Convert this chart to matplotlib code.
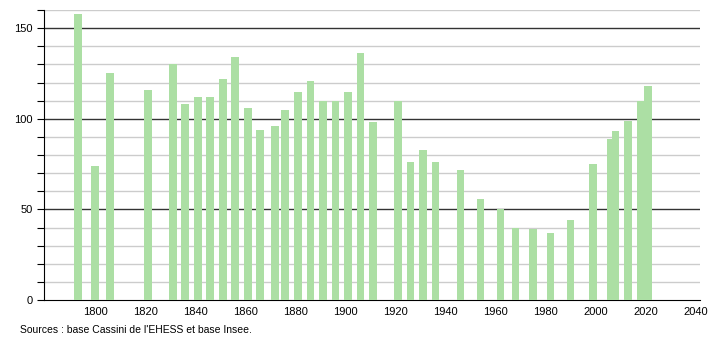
import matplotlib.pyplot as plt
import numpy as np

plt.rcParams['font.family'] = ['Liberation Sans', 'DejaVu Sans']

years = [1793, 1800, 1806, 1821, 1831, 1836, 1841, 1846, 1851, 1856, 1861, 1866,
         1872, 1876, 1881, 1886, 1891, 1896, 1901, 1906, 1911, 1921, 1926, 1931,
         1936, 1946, 1954, 1962, 1968, 1975, 1982, 1990, 1999, 2006, 2008, 2013,
         2018, 2021]
population = [158, 74, 125, 116, 130, 108, 112, 112, 122, 134, 106, 94,
              96, 105, 115, 121, 110, 110, 115, 136, 98, 110, 76, 83,
              76, 72, 56, 50, 40, 39, 37, 44, 75, 89, 93, 99,
              110, 118]
xticks = list(range(1800, 2041, 20))

fig = plt.figure(figsize=(7.1, 3.4), dpi=100)
ax = fig.add_axes([0.062, 0.1176, 0.924, 0.853])

ax.bar(years, population, width=3.1, color="#acdfa4", zorder=3)

ax.set_xlim(1779.5, 2041.8)
ax.set_ylim(0, 160)

ax.set_yticks([0, 50, 100, 150])
ax.set_yticks(np.arange(0, 161, 10), minor=True)
ax.set_xticks(xticks)

for v in range(10, 161, 10):
    if v % 50 == 0:
        ax.axhline(v, color="#333333", linewidth=1.0, zorder=1)
    else:
        ax.axhline(v, color="#cccccc", linewidth=1.0, zorder=1)

for side in ["top", "right"]:
    ax.spines[side].set_visible(False)
ax.spines["left"].set_color("black")
ax.spines["bottom"].set_color("black")

ax.tick_params(axis="y", which="both", direction="out", length=5, width=0.8,
               labelsize=8, pad=3)
ax.tick_params(axis="x", length=0, labelsize=8, pad=5)

fig.text(0.028, 0.015, "Sources : base Cassini de l'EHESS et base Insee.",
         fontsize=7.5, ha="left", va="bottom")

fig.savefig("out.png", dpi=100)
